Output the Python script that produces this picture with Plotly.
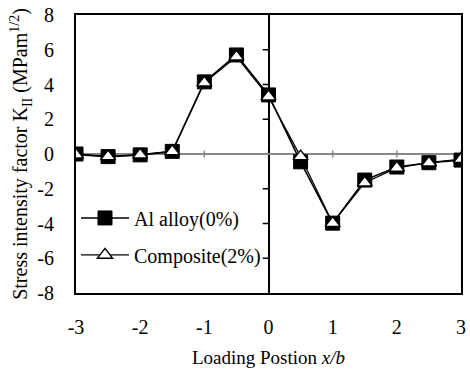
import plotly.graph_objects as go

x_pos = [-3, -2.5, -2, -1.5, -1, -0.5, 0, 0.5, 1, 1.5, 2, 2.5, 3]
al_alloy = [0.0, -0.15, -0.05, 0.15, 4.15, 5.7, 3.4, -0.45, -3.98, -1.5, -0.75, -0.5, -0.35]
composite = [-0.05, -0.15, -0.05, 0.15, 4.1, 5.6, 3.3, -0.15, -3.98, -1.65, -0.8, -0.5, -0.3]
x_ticks = [-3, -2, -1, 0, 1, 2, 3]
y_ticks = [-8, -6, -4, -2, 0, 2, 4, 6, 8]

FONT = "Liberation Serif, Times New Roman, serif"

fig = go.Figure()
fig.add_trace(go.Scatter(
    x=x_pos, y=al_alloy, mode="lines+markers", name="Al alloy(0%)",
    line=dict(color="black", width=1.6),
    marker=dict(symbol="square", size=14, color="black", line=dict(color="black", width=1)),
    legend="legend",
))
fig.add_trace(go.Scatter(
    x=x_pos, y=composite, mode="lines+markers", name="Composite(2%)",
    line=dict(color="black", width=1.2),
    marker=dict(symbol="triangle-up", size=13, color="white", line=dict(color="black", width=1.5)),
    legend="legend2",
))

shapes = []
# gray tick marks on the horizontal zero line
for t in x_ticks:
    shapes.append(dict(type="line", xref="x", yref="y", x0=t, x1=t, y0=-0.2, y1=0.2,
                       line=dict(color="#888888", width=1.5), layer="below"))
# black tick marks on the vertical axis through x=0
for t in y_ticks:
    if t not in (-8, 0, 8):
        shapes.append(dict(type="line", xref="x", yref="y", x0=-0.09, x1=0, y0=t, y1=t,
                           line=dict(color="black", width=1.5)))

leg_common = dict(xanchor="left", yanchor="middle", bgcolor="rgba(0,0,0,0)",
                  itemwidth=48,
                  font=dict(family=FONT, size=20, color="black"))
fig.update_layout(
    width=470, height=370,
    margin=dict(l=76, r=4, t=15, b=77),
    paper_bgcolor="white", plot_bgcolor="white",
    font=dict(family=FONT, size=20, color="black"),
    showlegend=True,
    legend=dict(x=0.0, y=0.27, **leg_common),
    legend2=dict(x=0.0, y=0.137, **leg_common),
    shapes=shapes,
)
fig.update_xaxes(
    range=[-3, 3], tickvals=x_ticks, ticktext=[str(v) for v in x_ticks],
    showgrid=False, showline=True, linecolor="black", linewidth=2, mirror=True,
    zeroline=True, zerolinecolor="black", zerolinewidth=2,
    ticks="", ticklabelstandoff=15,
    tickfont=dict(family=FONT, size=20),
    title=dict(text="Loading Postion <i>x/b</i>", font=dict(family=FONT, size=19), standoff=14),
)
fig.update_yaxes(
    range=[-8, 8], tickvals=y_ticks, ticktext=[str(v) for v in y_ticks],
    showgrid=False, showline=True, linecolor="black", linewidth=2, mirror=True,
    zeroline=True, zerolinecolor="#888888", zerolinewidth=2,
    ticks="", ticklabelstandoff=16,
    tickfont=dict(family=FONT, size=20),
    title=dict(text="Stress intensity factor K<sub>II</sub> (MPam<sup>1/2</sup>)",
               font=dict(family=FONT, size=20), standoff=4),
)

fig.write_html("out.html")
